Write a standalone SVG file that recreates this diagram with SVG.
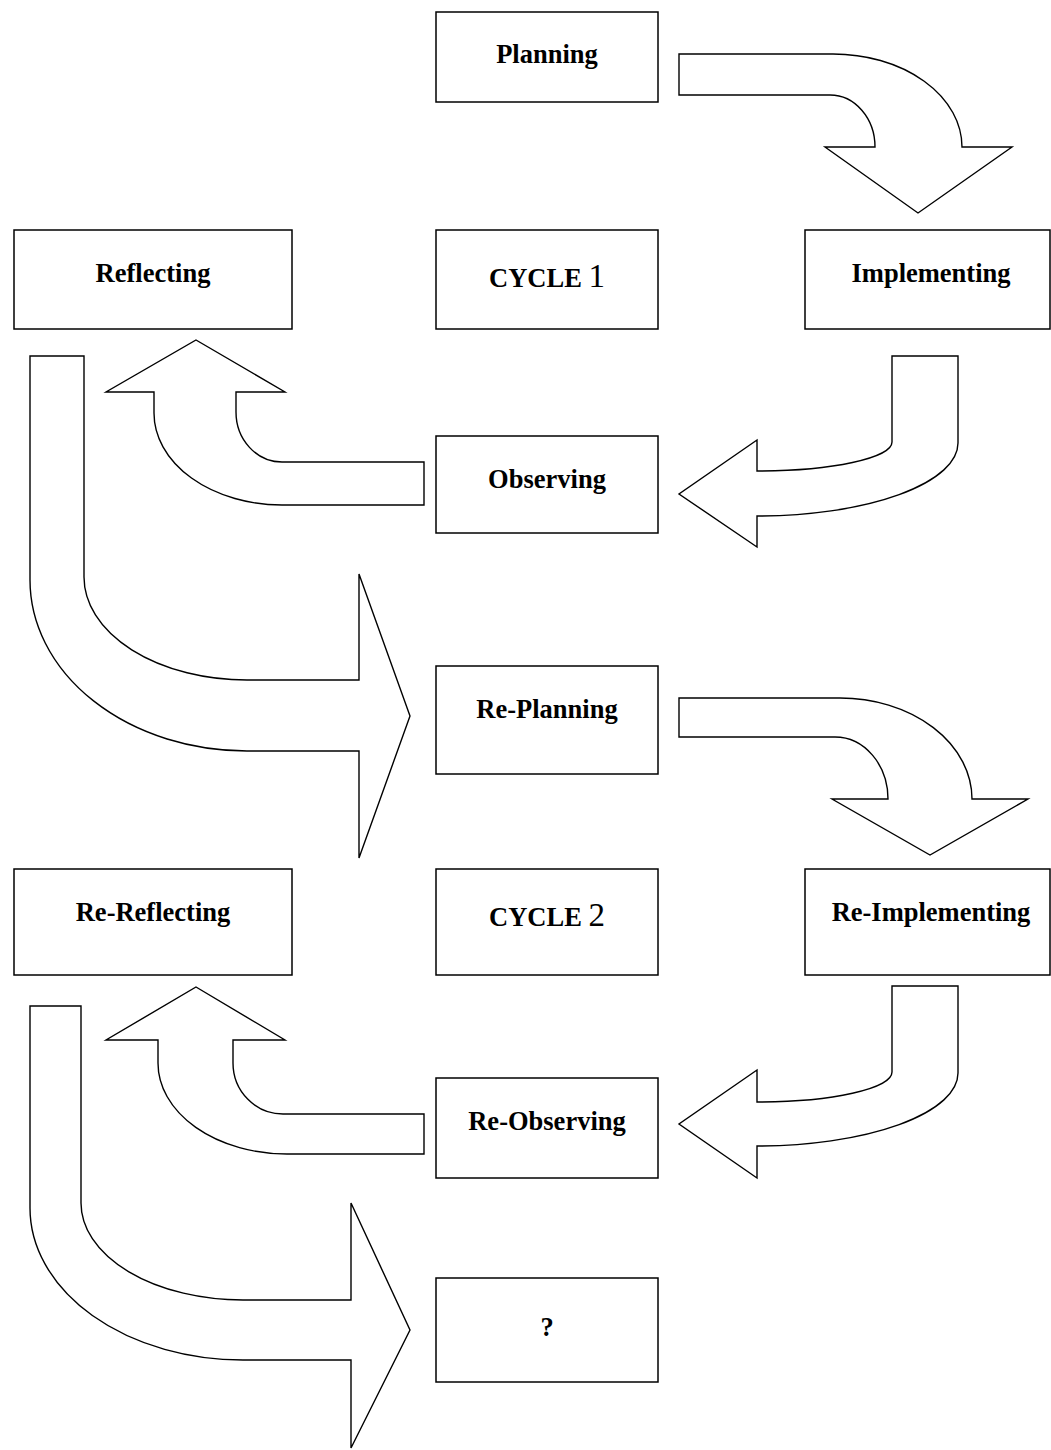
<svg xmlns="http://www.w3.org/2000/svg" width="1051" height="1450" viewBox="0 0 1051 1450">
<style>
.box{fill:#fff;stroke:#000;stroke-width:1.5}
.arr{fill:#fff;stroke:#000;stroke-width:1.4;stroke-linejoin:miter}
.t{font-family:"Liberation Serif","Times New Roman",serif;font-weight:bold;font-size:26.5px;text-anchor:middle;fill:#000}
.n{font-weight:normal;font-size:33px}
</style>
<rect width="1051" height="1450" fill="#fff"/>
<g id="connectors">
<path class="arr" d="M679,54 H833 A129,93 0 0 1 962,147 H1012 L918,213 L825,147 H875 A45,52 0 0 0 830,95 H679 Z"/>
<path class="arr" d="M892,356 H958 V443 A201,73 0 0 1 757,516 V547 L679,494 L757,440 V471 A135,29 0 0 0 892,442 Z"/>
<path class="arr" d="M196,340 L285,392 H236 V412 A46,50 0 0 0 282,462 H424 V505 H282 A128,92 0 0 1 154,413 V392 H106 Z"/>
<path class="arr" d="M30,356 H84 V577 A163,103 0 0 0 247,680 H359 V574 L410,716 L359,858 V751 H247 A217,171 0 0 1 30,580 Z"/>
<path class="arr" d="M679,698 H840 A132,101 0 0 1 972,799 H1028 L930,855 L832,799 H888 A53,62 0 0 0 835,737 H679 Z"/>
<path class="arr" d="M892,986 H958 V1073 A201,73 0 0 1 757,1146 V1178 L679,1124 L757,1070 V1102 A135,30 0 0 0 892,1072 Z"/>
<path class="arr" d="M196,987 L285,1040 H233 V1063 A50,51 0 0 0 283,1114 H424 V1154 H287 A129,91 0 0 1 158,1063 V1040 H106 Z"/>
<path class="arr" d="M30,1006 H81 V1203 A162,97 0 0 0 243,1300 H351 V1203 L410,1330 L351,1448 V1360 H243 A213,152 0 0 1 30,1208 Z"/>
</g>
<g id="planning"><rect class="box" x="436" y="12" width="222" height="90"/><text class="t" x="547" y="63">Planning</text></g>
<g id="reflecting"><rect class="box" x="14" y="230" width="278" height="99"/><text class="t" x="153" y="282">Reflecting</text></g>
<g id="cycle1"><rect class="box" x="436" y="230" width="222" height="99"/><text class="t" x="547" y="287">CYCLE <tspan class="n">1</tspan></text></g>
<g id="implementing"><rect class="box" x="805" y="230" width="245" height="99"/><text class="t" x="931" y="282">Implementing</text></g>
<g id="observing"><rect class="box" x="436" y="436" width="222" height="97"/><text class="t" x="547" y="488">Observing</text></g>
<g id="re-planning"><rect class="box" x="436" y="666" width="222" height="108"/><text class="t" x="547" y="718">Re-Planning</text></g>
<g id="re-reflecting"><rect class="box" x="14" y="869" width="278" height="106"/><text class="t" x="153" y="921">Re-Reflecting</text></g>
<g id="cycle2"><rect class="box" x="436" y="869" width="222" height="106"/><text class="t" x="547" y="926">CYCLE <tspan class="n">2</tspan></text></g>
<g id="re-implementing"><rect class="box" x="805" y="869" width="245" height="106"/><text class="t" x="931" y="921">Re-Implementing</text></g>
<g id="re-observing"><rect class="box" x="436" y="1078" width="222" height="100"/><text class="t" x="547" y="1130">Re-Observing</text></g>
<g id="unknown"><rect class="box" x="436" y="1278" width="222" height="104"/><text class="t" x="547" y="1336">?</text></g>
</svg>
